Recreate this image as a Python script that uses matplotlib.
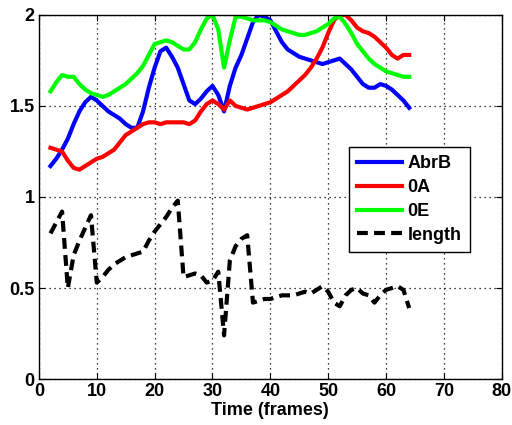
import numpy as np
import matplotlib
matplotlib.use("Agg")
import matplotlib.pyplot as plt

plt.rcParams['font.family'] = ['Liberation Sans', 'DejaVu Sans']

frames = list(range(2, 65))

abrb = [1.17, 1.21, 1.26, 1.32, 1.40, 1.47, 1.52, 1.55, 1.53, 1.50,
        1.47, 1.45, 1.43, 1.40, 1.38, 1.38, 1.47, 1.60, 1.71, 1.80,
        1.82, 1.77, 1.71, 1.62, 1.53, 1.51, 1.54, 1.58, 1.61, 1.56,
        1.47, 1.61, 1.71, 1.78, 1.87, 1.96, 2.00, 1.99, 1.97, 1.91,
        1.85, 1.81, 1.79, 1.77, 1.76, 1.75, 1.74, 1.73, 1.74, 1.75,
        1.76, 1.73, 1.70, 1.66, 1.62, 1.60, 1.60, 1.62, 1.61, 1.59,
        1.56, 1.53, 1.49]

oa = [1.27, 1.26, 1.25, 1.20, 1.16, 1.15, 1.17, 1.19, 1.21, 1.22,
      1.24, 1.26, 1.30, 1.34, 1.36, 1.38, 1.40, 1.41, 1.41, 1.40,
      1.41, 1.41, 1.41, 1.41, 1.40, 1.42, 1.47, 1.51, 1.53, 1.51,
      1.48, 1.53, 1.50, 1.49, 1.48, 1.49, 1.50, 1.51, 1.52, 1.54,
      1.56, 1.58, 1.61, 1.64, 1.67, 1.71, 1.76, 1.82, 1.90, 1.97,
      2.00, 2.00, 1.97, 1.93, 1.91, 1.90, 1.88, 1.85, 1.82, 1.78,
      1.76, 1.78, 1.78]

oe = [1.58, 1.63, 1.67, 1.66, 1.66, 1.62, 1.59, 1.57, 1.56, 1.55,
      1.56, 1.58, 1.60, 1.62, 1.65, 1.68, 1.72, 1.78, 1.84, 1.85,
      1.86, 1.85, 1.83, 1.81, 1.81, 1.85, 1.92, 1.98, 2.00, 1.92,
      1.71, 1.86, 1.99, 1.99, 1.98, 1.97, 1.97, 1.97, 1.96, 1.94,
      1.92, 1.91, 1.90, 1.89, 1.89, 1.90, 1.91, 1.93, 1.95, 1.98,
      1.99, 1.95, 1.90, 1.84, 1.80, 1.76, 1.73, 1.71, 1.69, 1.68,
      1.67, 1.66, 1.66]

length = [0.80, 0.86, 0.92, 0.50, 0.68, 0.76, 0.83, 0.90, 0.53, 0.56,
          0.60, 0.63, 0.65, 0.67, 0.68, 0.69, 0.70, 0.76, 0.81, 0.85,
          0.89, 0.94, 0.98, 0.56, 0.57, 0.58, 0.57, 0.53, 0.54, 0.59,
          0.24, 0.65, 0.73, 0.77, 0.79, 0.42, 0.43, 0.44, 0.44, 0.45,
          0.46, 0.46, 0.46, 0.47, 0.48, 0.47, 0.49, 0.51, 0.48, 0.42,
          0.40, 0.46, 0.49, 0.50, 0.47, 0.46, 0.42, 0.46, 0.49, 0.50,
          0.51, 0.49, 0.39]

xticks = [0, 10, 20, 30, 40, 50, 60, 70, 80]
yticks = [0, 0.5, 1, 1.5, 2]
ytick_labels = ["0", "0.5", "1", "1.5", "2"]

fig = plt.figure(figsize=(5.12, 4.25), dpi=100)
ax = fig.add_axes([0.076, 0.108, 0.904, 0.857])

ax.plot(frames, abrb, color=(0, 0, 1), lw=3, label="AbrB")
ax.plot(frames, oa, color=(1, 0, 0), lw=3, label="0A")
ax.plot(frames, oe, color=(0, 1, 0), lw=3, label="0E")
ax.plot(frames, length, color="black", lw=3, dashes=(2.6, 1.5), label="length")

ax.set_xlim(0, 80)
ax.set_ylim(0, 2)
ax.set_xticks(xticks)
ax.set_yticks(yticks)
ax.set_yticklabels(ytick_labels)
ax.tick_params(direction="in", length=4, width=0.8, labelsize=13, top=True, right=True, pad=3)
for lab in ax.get_xticklabels() + ax.get_yticklabels():
    lab.set_fontweight("bold")
ax.grid(True, linestyle=(0, (1, 3)), color="black", lw=0.9)
for sp in ax.spines.values():
    sp.set_linewidth(1.0)

ax.set_xlabel("Time (frames)", fontsize=13, fontweight="bold", labelpad=1)

leg = ax.legend(loc="upper left", bbox_to_anchor=(0.67, 0.637), borderaxespad=0,
                fancybox=False, edgecolor="black", framealpha=1,
                prop={"size": 13, "weight": "bold"}, handlelength=2.5,
                handletextpad=0.3, labelspacing=0.38, borderpad=0.45)
leg.get_frame().set_linewidth(1.0)

fig.savefig("out.png", dpi=100)
